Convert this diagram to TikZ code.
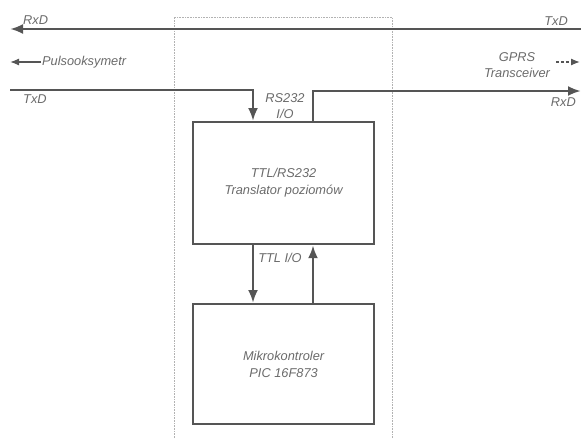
\documentclass[tikz,border=0pt]{standalone}
\usepackage{fontspec}
\setmainfont{Liberation Sans}
\usetikzlibrary{arrows.meta}
\definecolor{ln}{HTML}{555555}
\definecolor{tx}{HTML}{6A6A6A}
\begin{document}
\begin{tikzpicture}[x=1pt,y=-1pt,
  wire/.style={draw=ln,line width=2.8pt},
  tip/.style={-{Latex[length=13pt,width=10pt]}},
  box/.style={draw=ln,line width=2.2pt,minimum width=181pt,minimum height=122pt,inner sep=0pt,anchor=north west},
  lbl/.style={text=tx,font=\itshape\fontsize{12.8}{16}\selectfont,inner sep=0pt,align=center}]
\useasboundingbox (0,0) rectangle (581,439);
% dotted frame
\draw[gray!60,densely dotted,line width=0.6pt] (174,438) -- (174,17) -- (392,17) -- (392,438);
% boxes
\node[box] (b1) at (192,121) {};
\node[box,minimum height=120pt] (b2) at (192,303) {};
\node[lbl] at (b1.center) {TTL/RS232\\[1pt]Translator poziomów};
\node[lbl] at (b2.center) {Mikrokontroler\\[1pt]PIC 16F873};
% coordinates
\coordinate (rxR) at (581,29);
\coordinate (rxL) at (10,29);
\coordinate (txL) at (10,90);
\coordinate (txC) at (253,90);
\coordinate (rxC) at (313,91);
\coordinate (rxE) at (581,91);
% lines
\draw[wire,tip] (rxR) -- (rxL);
\draw[wire,tip] (txL) -- (txC) -- (txC |- b1.north);
\draw[wire,tip] (rxC |- b1.north) -- (rxC) -- (rxE);
\draw[wire,tip] (b1.south -| txC) -- (b2.north -| txC);
\draw[wire,tip] (b2.north -| rxC) -- (b1.south -| rxC);
% pulsooksymetr
\node[lbl,anchor=west] (pul) at (42,62) {Pulsooksymetr};
\coordinate (pulE) at (10,62);
\draw[ln,line width=1.3pt,-{Latex[length=9pt,width=7pt]}] ([xshift=-1pt]pul.west) -- (pulE);
% GPRS
\node[lbl] (gprs) at (517,65) {GPRS\\Transceiver};
\coordinate (gE) at (580,62);
\draw[ln,line width=1.3pt,densely dashed,-{Latex[length=9pt,width=7pt]}] (556,62) -- (gE);
% labels
\node[lbl,anchor=west] (l1) at (23,20) {RxD};
\node[lbl,anchor=west] (l2) at (23,99) {TxD};
\node[lbl,anchor=east] (l3) at (568,21) {TxD};
\node[lbl,anchor=east] (l4) at (576,102) {RxD};
\node[lbl] (l5) at (285,106) {RS232\\I/O};
\node[lbl] (l6) at (280,258) {TTL I/O};
\end{tikzpicture}
\end{document}
